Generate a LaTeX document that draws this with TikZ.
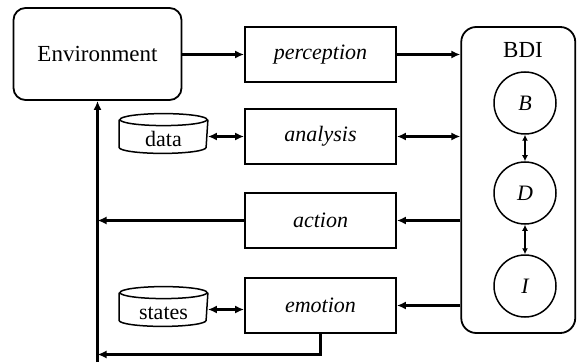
\documentclass[tikz,border=0pt]{standalone}
\usepackage{fontspec}
\setmainfont{Liberation Serif}
\usetikzlibrary{arrows.meta,calc}
\begin{document}
\begin{tikzpicture}[x=1pt,y=-1pt, line width=1.8pt,
  txt/.style={font=\fontsize{23}{27}\selectfont},
  proc/.style={draw, rectangle, minimum width=151pt, minimum height=55pt, inner sep=0pt, font=\fontsize{22}{26}\selectfont\itshape},
  circ/.style={draw, circle, minimum size=62pt, inner sep=0pt, line width=1.5pt, font=\fontsize{22}{26}\selectfont\itshape},
  arr/.style={line width=2.2pt, -{Latex[length=9pt,width=8pt]}},
  darr/.style={line width=2.2pt, {Latex[length=9pt,width=8pt]}-{Latex[length=9pt,width=8pt]}},
  sarr/.style={{Latex[length=6pt,width=6pt]}-{Latex[length=6pt,width=6pt]}, line width=1.3pt},
  db/.style={minimum width=87pt, minimum height=19pt, inner sep=0pt, text height=20pt, text depth=0pt, font=\fontsize{22}{26}\selectfont}
]
\useasboundingbox (0,0) rectangle (577,363);
\node[draw, rounded corners=12pt, minimum width=168pt, minimum height=92pt, txt] (env) at (97.5,54) {Environment};
\node[proc] (per) at (320.5,54.5) {perception};
\node[proc] (ana) at (320.5,136.5) {analysis};
\node[proc] (act) at (320.5,220.5) {action};
\node[proc] (emo) at (320.5,305.5) {emotion};
\node[draw, rounded corners=15pt, minimum width=114pt, minimum height=306pt] (bdi) at (518.25,180) {};
\node[txt] (bdil) at (523,50) {BDI};
\node[circ] (B) at (525,103) {B};
\node[circ] (D) at (525,193) {D};
\node[circ] (I) at (525,286) {I};
% cylinders
\node[db] (data) at (163.5,136.5) {data};
\node[db] (states) at (163.5,309.5) {states};
\foreach \n in {data,states}{
  \draw[line width=1.5pt] ($(\n.north)+(0,-6)$) ellipse[x radius=43.5, y radius=6];
  \draw[line width=1.5pt] ($(\n.north west)+(0,-6)$) -- (\n.south west) arc[start angle=180, end angle=0, x radius=43.5, y radius=6] -- ($(\n.north east)+(0,-6)$);
}
\coordinate (vbot) at (97.5,362);
\coordinate (elbow) at (320.5,354.5);
\draw[arr] (env.east |- per.west) -- (per.west);
\draw[arr] (per.east) -- (per.east -| bdi.west);
\draw[darr] (data.east) -- (data.east -| ana.west);
\draw[darr] (ana.east) -- (ana.east -| bdi.west);
\draw[arr] (act.east -| bdi.west) -- (act.east);
\draw[arr] (emo.east -| bdi.west) -- (emo.east);
\draw[darr] (states.east) -- (states.east -| emo.west);
\draw[arr] (act.west) -- (act.west -| vbot);
\draw[arr] (vbot) -- (env.south);
\draw[arr] (emo.south) -- (elbow) -- (elbow -| vbot);
\draw[sarr] (B.south) -- (D.north);
\draw[sarr] (D.south) -- (I.north);
\end{tikzpicture}
\end{document}
